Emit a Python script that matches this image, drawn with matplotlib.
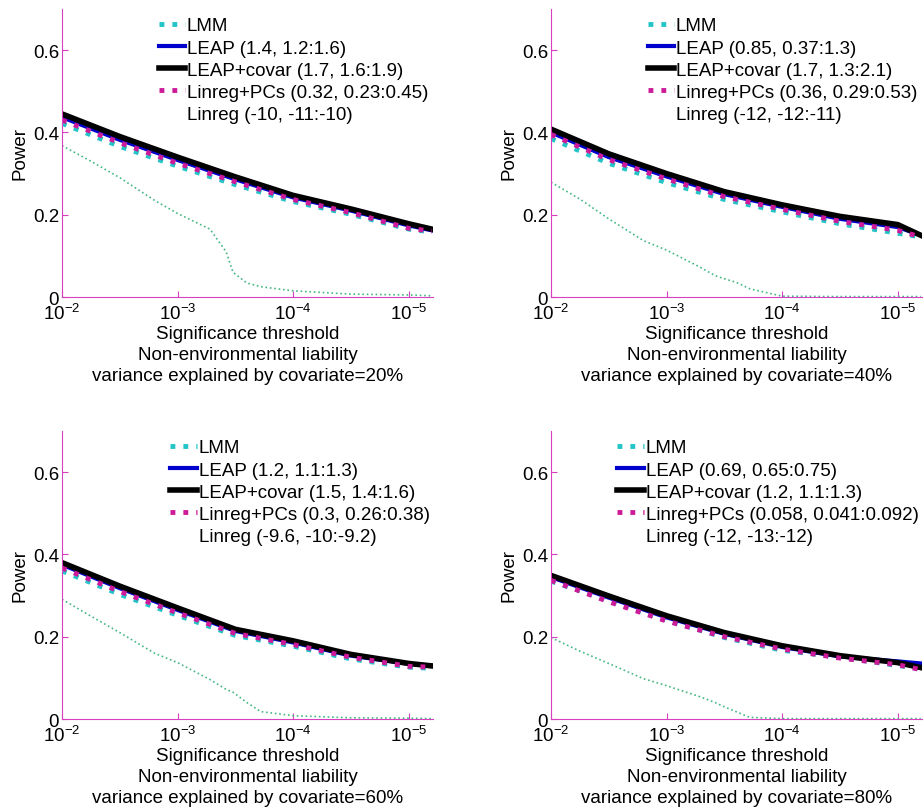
import matplotlib
matplotlib.use("Agg")
import matplotlib.pyplot as plt
from matplotlib.lines import Line2D
import numpy as np

plt.rcParams["font.family"] = ["Liberation Sans", "DejaVu Sans"]
plt.rcParams["mathtext.fontset"] = "custom"
plt.rcParams["mathtext.rm"] = "Liberation Sans"
plt.rcParams["mathtext.it"] = "Liberation Sans:italic"
plt.rcParams["font.size"] = 13.5

log_thresh = [-2, -2.5, -3, -3.5, -4, -4.5, -5, -5.2]
# Linreg curve has its own, denser threshold grid around its drop
log_thresh_low = [-2, -2.25, -2.5, -2.8, -3, -3.28, -3.42, -3.48, -3.6, -3.72, -4, -4.5, -5, -5.2]

covariate_pct = [20, 40, 60, 80]

lmm = [
    [0.422, 0.366, 0.318, 0.273, 0.232, 0.201, 0.165, 0.158],
    [0.385, 0.325, 0.278, 0.237, 0.207, 0.178, 0.155, 0.146],
    [0.360, 0.303, 0.252, 0.203, 0.177, 0.146, 0.126, 0.123],
    [0.335, 0.288, 0.240, 0.198, 0.167, 0.150, 0.130, 0.122],
]
leap = [
    [0.437, 0.382, 0.333, 0.286, 0.242, 0.210, 0.174, 0.162],
    [0.400, 0.340, 0.293, 0.250, 0.219, 0.190, 0.170, 0.150],
    [0.375, 0.318, 0.265, 0.214, 0.186, 0.154, 0.134, 0.130],
    [0.345, 0.295, 0.247, 0.207, 0.175, 0.152, 0.140, 0.135],
]
leap_covar = [
    [0.445, 0.390, 0.340, 0.292, 0.247, 0.214, 0.178, 0.165],
    [0.408, 0.348, 0.300, 0.256, 0.224, 0.196, 0.176, 0.150],
    [0.380, 0.323, 0.270, 0.218, 0.190, 0.157, 0.135, 0.129],
    [0.349, 0.299, 0.251, 0.210, 0.178, 0.154, 0.137, 0.125],
]
linreg_pcs = [
    [0.430, 0.375, 0.325, 0.280, 0.237, 0.205, 0.167, 0.160],
    [0.395, 0.334, 0.287, 0.244, 0.213, 0.184, 0.162, 0.146],
    [0.367, 0.310, 0.258, 0.208, 0.181, 0.150, 0.128, 0.126],
    [0.337, 0.285, 0.238, 0.200, 0.170, 0.148, 0.132, 0.120],
]
linreg = [
    [0.368, 0.330, 0.290, 0.235, 0.203, 0.165, 0.110, 0.060, 0.034, 0.025, 0.015, 0.007, 0.005, 0.003],
    [0.279, 0.238, 0.190, 0.137, 0.114, 0.074, 0.052, 0.046, 0.036, 0.020, 0.002, 0.001, 0.001, 0.001],
    [0.291, 0.250, 0.210, 0.160, 0.137, 0.096, 0.072, 0.065, 0.040, 0.018, 0.008, 0.003, 0.002, 0.001],
    [0.198, 0.165, 0.135, 0.098, 0.081, 0.055, 0.040, 0.032, 0.018, 0.004, 0.001, 0.001, 0.001, 0.001],
]

leap_lbl = ["(1.4, 1.2:1.6)", "(0.85, 0.37:1.3)", "(1.2, 1.1:1.3)", "(0.69, 0.65:0.75)"]
covar_lbl = ["(1.7, 1.6:1.9)", "(1.7, 1.3:2.1)", "(1.5, 1.4:1.6)", "(1.2, 1.1:1.3)"]
pcs_lbl = ["(0.32, 0.23:0.45)", "(0.36, 0.29:0.53)", "(0.3, 0.26:0.38)", "(0.058, 0.041:0.092)"]
linreg_lbl = ["(-10, -11:-10)", "(-12, -12:-11)", "(-9.6, -10:-9.2)", "(-12, -13:-12)"]

spine_col = "#d940c0"
cyan = "#22c4c8"
magenta = "#cc1a99"
lowc = "#45b884"

fig = plt.figure(figsize=(9.24, 8.12), dpi=100)
positions = [
    [0.0671, 0.633, 0.4015, 0.3547],
    [0.5963, 0.633, 0.4015, 0.3547],
    [0.0671, 0.1133, 0.4015, 0.3547],
    [0.5963, 0.1133, 0.4015, 0.3547],
]
legend_x = [0.24, 0.24, 0.272, 0.159]

x = 10.0 ** np.array(log_thresh)
x_low = 10.0 ** np.array(log_thresh_low)

for i in range(4):
    ax = fig.add_axes(positions[i])
    ax.plot(x, lmm[i], color=cyan, ls=":", lw=3.5)
    ax.plot(x, leap[i], color="#0000cc", lw=3)
    ax.plot(x, leap_covar[i], color="black", lw=4)
    ax.plot(x, linreg_pcs[i], color=magenta, ls=":", lw=3.5)
    ax.plot(x_low, linreg[i], color=lowc, ls=":", lw=1.2)

    ax.set_xscale("log")
    ax.set_xlim(1e-2, 10 ** -5.21)
    ax.set_ylim(0, 0.7)
    ax.set_xticks([1e-2, 1e-3, 1e-4, 1e-5])
    ax.xaxis.set_minor_locator(matplotlib.ticker.NullLocator())
    ax.set_yticks([0, 0.2, 0.4, 0.6])
    ax.set_yticklabels(["0", "0.2", "0.4", "0.6"])
    ax.tick_params(direction="in", color=spine_col, length=4, labelsize=13.5)
    ax.tick_params(axis="x", pad=4)
    ax.tick_params(axis="y", pad=2)
    for s in ["top", "right"]:
        ax.spines[s].set_visible(False)
    for s in ["left", "bottom"]:
        ax.spines[s].set_color(spine_col)
    ax.set_ylabel("Power", labelpad=3)
    ax.set_xlabel("Significance threshold\nNon-environmental liability\n"
                  "variance explained by covariate=%d%%" % covariate_pct[i],
                  labelpad=2, linespacing=1.28)

    handles = [
        Line2D([], [], color=cyan, ls=":", lw=3.5),
        Line2D([], [], color="#0000cc", lw=3),
        Line2D([], [], color="black", lw=4),
        Line2D([], [], color=magenta, ls=":", lw=3.5),
        Line2D([], [], color="white", lw=1),
    ]
    labels = [
        "LMM",
        "LEAP " + leap_lbl[i],
        "LEAP+covar " + covar_lbl[i],
        "Linreg+PCs " + pcs_lbl[i],
        "Linreg " + linreg_lbl[i],
    ]
    ax.legend(handles, labels, loc="upper left", bbox_to_anchor=(legend_x[i], 0.997),
              frameon=False, handlelength=1.4, handletextpad=0.1,
              labelspacing=0.27, borderaxespad=0, fontsize=13.5)

fig.savefig("out.png", dpi=100)
